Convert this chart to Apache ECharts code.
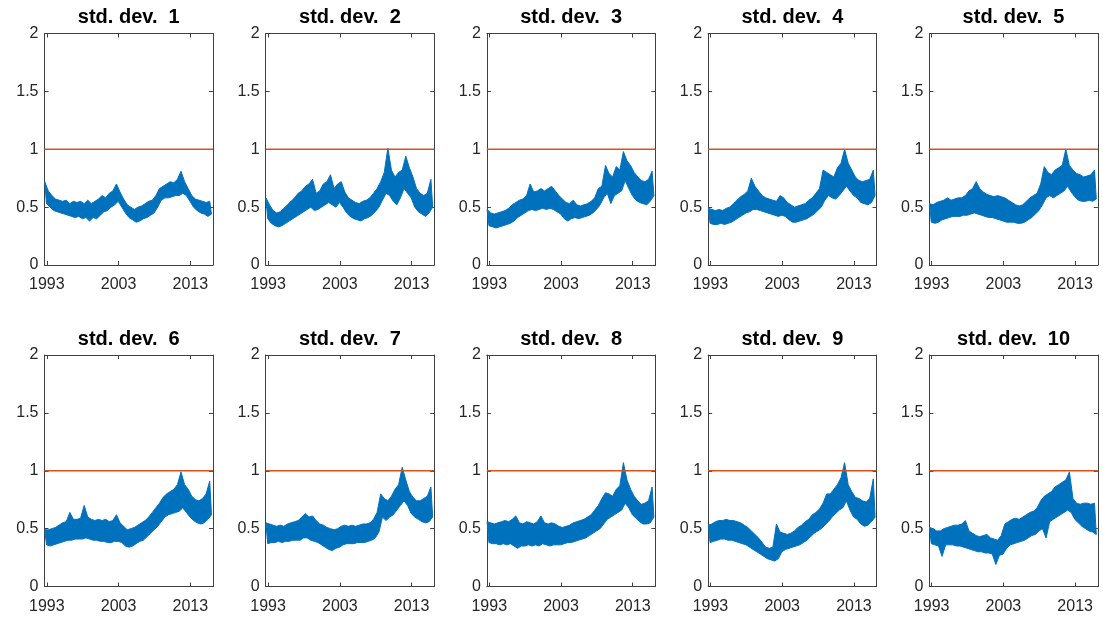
<!DOCTYPE html>
<html>
<head>
<meta charset="utf-8">
<title>std. dev.</title>
<script src="https://cdn.jsdelivr.net/npm/echarts@6/dist/echarts.min.js"></script>
<style>
  html, body { margin: 0; padding: 0; background: #ffffff; }
  #chart { width: 1103px; height: 619px; }
</style>
</head>
<body>
<div id="chart"></div>
<script>
// Panel titles
const panelTitles = ['std. dev.  1', 'std. dev.  2', 'std. dev.  3', 'std. dev.  4', 'std. dev.  5',
                     'std. dev.  6', 'std. dev.  7', 'std. dev.  8', 'std. dev.  9', 'std. dev.  10'];

// Axis ticks
const xTickYears = [1993, 2003, 2013];
const yTickValues = [0, 0.5, 1, 1.5, 2];
const xRange = [1992.67, 2016.16];
const yRange = [0, 2];

// Reference level (orange line)
const refLevel = 1;

// Sampling grid: upper readings at firstYear + k*step, lower readings half a step later
const firstYear = 1992.7;
const step = 0.5;

// Upper / lower envelope of the rolling std. dev., one pair per half year
const sd1Hi = [0.72,0.64,0.60,0.57,0.56,0.55,0.56,0.53,0.55,0.54,0.55,0.53,0.56,0.53,0.55,0.57,0.60,0.58,0.62,0.64,0.70,0.63,0.57,0.52,0.50,0.48,0.50,0.51,0.53,0.55,0.56,0.60,0.66,0.68,0.70,0.72,0.71,0.74,0.81,0.72,0.66,0.60,0.57,0.56,0.55,0.54,0.55];
const sd1Lo = [0.53,0.50,0.47,0.46,0.45,0.44,0.43,0.42,0.41,0.42,0.40,0.41,0.38,0.41,0.40,0.43,0.46,0.47,0.50,0.52,0.55,0.50,0.45,0.41,0.39,0.37,0.38,0.40,0.41,0.43,0.45,0.50,0.56,0.58,0.58,0.59,0.60,0.60,0.62,0.60,0.55,0.50,0.47,0.45,0.44,0.42,0.44];

const sd2Hi = [0.58,0.52,0.47,0.45,0.46,0.49,0.52,0.55,0.58,0.62,0.64,0.68,0.70,0.74,0.62,0.64,0.70,0.72,0.78,0.66,0.70,0.72,0.63,0.58,0.56,0.54,0.53,0.55,0.56,0.58,0.62,0.66,0.72,0.80,1.01,0.82,0.76,0.80,0.82,0.94,0.84,0.76,0.66,0.62,0.60,0.62,0.74];
const sd2Lo = [0.40,0.36,0.34,0.33,0.34,0.36,0.38,0.40,0.42,0.44,0.46,0.48,0.50,0.47,0.48,0.50,0.52,0.54,0.52,0.50,0.54,0.50,0.45,0.42,0.40,0.39,0.38,0.40,0.41,0.43,0.46,0.50,0.56,0.62,0.60,0.55,0.52,0.58,0.66,0.62,0.58,0.50,0.46,0.44,0.42,0.45,0.50];

const sd3Hi = [0.48,0.45,0.44,0.45,0.46,0.47,0.49,0.52,0.54,0.56,0.57,0.60,0.70,0.63,0.64,0.66,0.64,0.66,0.68,0.64,0.60,0.57,0.54,0.53,0.56,0.52,0.51,0.52,0.53,0.55,0.58,0.66,0.68,0.86,0.79,0.76,0.85,0.82,0.98,0.90,0.86,0.80,0.76,0.73,0.72,0.74,0.81];
const sd3Lo = [0.34,0.33,0.32,0.33,0.34,0.35,0.36,0.38,0.41,0.43,0.45,0.47,0.48,0.47,0.48,0.49,0.48,0.49,0.48,0.46,0.44,0.40,0.38,0.40,0.41,0.40,0.41,0.42,0.43,0.45,0.48,0.52,0.58,0.62,0.53,0.60,0.62,0.64,0.73,0.66,0.60,0.56,0.54,0.53,0.52,0.55,0.60];

const sd4Hi = [0.49,0.48,0.47,0.48,0.47,0.49,0.50,0.53,0.56,0.59,0.61,0.64,0.75,0.68,0.64,0.60,0.58,0.57,0.56,0.55,0.60,0.58,0.54,0.52,0.50,0.51,0.52,0.53,0.56,0.58,0.62,0.66,0.82,0.80,0.78,0.76,0.84,0.88,1.00,0.88,0.82,0.76,0.73,0.72,0.73,0.74,0.82];
const sd4Lo = [0.36,0.35,0.35,0.36,0.35,0.36,0.37,0.39,0.41,0.43,0.45,0.46,0.48,0.48,0.47,0.46,0.45,0.44,0.43,0.42,0.43,0.42,0.39,0.37,0.37,0.38,0.39,0.40,0.42,0.44,0.47,0.50,0.56,0.60,0.58,0.57,0.60,0.64,0.68,0.64,0.60,0.58,0.54,0.53,0.52,0.54,0.60];

const sd5Hi = [0.53,0.52,0.54,0.55,0.56,0.58,0.56,0.57,0.58,0.58,0.60,0.64,0.66,0.72,0.66,0.63,0.61,0.60,0.59,0.60,0.59,0.58,0.56,0.54,0.52,0.51,0.52,0.55,0.58,0.60,0.62,0.70,0.85,0.80,0.78,0.82,0.84,0.86,1.00,0.86,0.82,0.79,0.78,0.76,0.77,0.78,0.82];
const sd5Lo = [0.37,0.36,0.37,0.39,0.40,0.41,0.42,0.42,0.42,0.43,0.43,0.44,0.45,0.44,0.43,0.42,0.41,0.41,0.40,0.39,0.38,0.37,0.37,0.37,0.36,0.36,0.37,0.39,0.41,0.44,0.47,0.52,0.58,0.60,0.58,0.60,0.62,0.64,0.68,0.63,0.59,0.56,0.55,0.55,0.56,0.55,0.57];

const sd6Hi = [0.49,0.49,0.50,0.51,0.53,0.55,0.56,0.64,0.58,0.58,0.59,0.70,0.60,0.58,0.57,0.58,0.57,0.58,0.56,0.57,0.62,0.55,0.52,0.49,0.50,0.51,0.53,0.55,0.57,0.60,0.64,0.68,0.72,0.77,0.80,0.82,0.84,0.88,0.99,0.88,0.84,0.78,0.75,0.74,0.76,0.80,0.91];
const sd6Lo = [0.36,0.35,0.36,0.37,0.38,0.39,0.40,0.40,0.41,0.41,0.41,0.42,0.41,0.40,0.40,0.39,0.39,0.38,0.38,0.39,0.39,0.38,0.35,0.34,0.35,0.37,0.39,0.40,0.43,0.46,0.49,0.52,0.56,0.60,0.62,0.63,0.64,0.65,0.68,0.64,0.60,0.57,0.55,0.54,0.55,0.58,0.62];

const sd7Hi = [0.55,0.54,0.53,0.52,0.53,0.52,0.54,0.55,0.56,0.57,0.60,0.63,0.60,0.61,0.57,0.54,0.53,0.51,0.50,0.49,0.50,0.52,0.53,0.52,0.53,0.52,0.53,0.54,0.54,0.55,0.58,0.64,0.80,0.76,0.74,0.78,0.84,0.88,1.03,0.92,0.82,0.77,0.74,0.74,0.76,0.78,0.86];
const sd7Lo = [0.37,0.38,0.38,0.39,0.38,0.39,0.39,0.40,0.40,0.40,0.42,0.42,0.40,0.39,0.38,0.36,0.34,0.32,0.31,0.33,0.34,0.36,0.37,0.37,0.37,0.38,0.38,0.38,0.39,0.40,0.42,0.47,0.60,0.57,0.60,0.62,0.66,0.70,0.74,0.70,0.63,0.60,0.58,0.56,0.55,0.56,0.60];

const sd8Hi = [0.56,0.55,0.54,0.55,0.56,0.57,0.56,0.58,0.61,0.55,0.54,0.56,0.55,0.54,0.56,0.61,0.55,0.54,0.55,0.54,0.52,0.51,0.52,0.53,0.55,0.56,0.57,0.58,0.60,0.62,0.66,0.70,0.76,0.81,0.80,0.78,0.84,0.87,1.07,0.92,0.84,0.78,0.74,0.71,0.72,0.74,0.86];
const sd8Lo = [0.38,0.37,0.37,0.36,0.37,0.36,0.37,0.35,0.33,0.35,0.35,0.36,0.35,0.36,0.35,0.37,0.36,0.35,0.36,0.36,0.36,0.37,0.38,0.38,0.39,0.40,0.41,0.42,0.44,0.46,0.48,0.50,0.54,0.58,0.60,0.62,0.64,0.66,0.72,0.68,0.62,0.59,0.56,0.54,0.54,0.55,0.60];

const sd9Hi = [0.53,0.54,0.56,0.57,0.57,0.58,0.57,0.57,0.56,0.55,0.53,0.51,0.48,0.45,0.42,0.38,0.34,0.33,0.34,0.54,0.47,0.46,0.45,0.46,0.48,0.51,0.53,0.56,0.58,0.62,0.64,0.67,0.72,0.80,0.80,0.84,0.88,0.94,1.07,0.88,0.82,0.77,0.76,0.74,0.73,0.76,0.93];
const sd9Lo = [0.38,0.39,0.40,0.41,0.41,0.40,0.40,0.39,0.38,0.37,0.36,0.34,0.32,0.30,0.28,0.26,0.24,0.23,0.22,0.24,0.30,0.32,0.33,0.34,0.35,0.36,0.38,0.40,0.43,0.46,0.48,0.50,0.53,0.56,0.60,0.63,0.66,0.68,0.74,0.66,0.60,0.58,0.54,0.52,0.53,0.56,0.60];

const sd10Hi = [0.51,0.50,0.48,0.48,0.50,0.51,0.52,0.53,0.53,0.54,0.57,0.48,0.46,0.44,0.43,0.44,0.45,0.42,0.41,0.40,0.44,0.54,0.56,0.58,0.59,0.58,0.60,0.62,0.64,0.65,0.68,0.74,0.78,0.80,0.82,0.86,0.88,0.90,0.92,0.99,0.76,0.72,0.71,0.72,0.72,0.71,0.72];
const sd10Lo = [0.37,0.36,0.35,0.26,0.36,0.36,0.36,0.35,0.35,0.34,0.33,0.32,0.31,0.30,0.30,0.29,0.29,0.28,0.19,0.27,0.28,0.33,0.36,0.37,0.38,0.39,0.40,0.42,0.44,0.45,0.48,0.50,0.42,0.56,0.58,0.60,0.62,0.64,0.66,0.64,0.58,0.55,0.52,0.50,0.48,0.47,0.45];

const panelHi = [sd1Hi, sd2Hi, sd3Hi, sd4Hi, sd5Hi, sd6Hi, sd7Hi, sd8Hi, sd9Hi, sd10Hi];
const panelLo = [sd1Lo, sd2Lo, sd3Lo, sd4Lo, sd5Lo, sd6Lo, sd7Lo, sd8Lo, sd9Lo, sd10Lo];

// ---- layout (pixels) ----
const COLS = 5;
const plotLefts = [44.5, 265.7, 486.9, 708.1, 929.3];
const plotTops = [33.5, 355];
const plotW = 168.5;
const plotH = 231.5;

const BLUE = '#0072BD';
const ORANGE = '#D95319';
const AXIS = '#404040';
const TEXT = '#262626';
const FONT = '"Liberation Sans", Arial, Helvetica, sans-serif';

// Outline of the band: upper readings left to right, lower readings right to left
function bandOutline(hi, lo) {
  const upper = hi.map((v, i) => [firstYear + i * step, v]);
  const lower = lo.map((v, i) => [firstYear + i * step + step / 2, v]);
  return upper.concat(lower.reverse());
}

const grids = [], xAxes = [], yAxes = [], series = [], graphics = [];

panelTitles.forEach((title, k) => {
  const col = k % COLS, row = Math.floor(k / COLS);
  const left = plotLefts[col], top = plotTops[row];
  grids.push({ left: left, top: top, width: plotW, height: plotH, containLabel: false });

  const tickStyle = { show: true, inside: true, length: 4, lineStyle: { color: AXIS, width: 1 } };
  const lineStyle = { show: true, onZero: false, lineStyle: { color: AXIS, width: 1 } };

  // bottom x axis with labels
  xAxes.push({
    type: 'value', gridIndex: k, position: 'bottom', min: xRange[0], max: xRange[1],
    axisLine: lineStyle,
    axisTick: Object.assign({ customValues: xTickYears }, tickStyle),
    axisLabel: { customValues: xTickYears, margin: 12, fontSize: 16, color: TEXT, fontFamily: FONT,
                 formatter: v => String(Math.round(v)) },
    splitLine: { show: false }
  });
  // top x axis (box edge with ticks)
  xAxes.push({
    type: 'value', gridIndex: k, position: 'top', min: xRange[0], max: xRange[1],
    axisLine: lineStyle,
    axisTick: Object.assign({ customValues: xTickYears }, tickStyle),
    axisLabel: { show: false },
    splitLine: { show: false }
  });
  // left y axis with labels
  yAxes.push({
    type: 'value', gridIndex: k, position: 'left', min: yRange[0], max: yRange[1], interval: 0.5,
    axisLine: lineStyle,
    axisTick: Object.assign({ customValues: yTickValues }, tickStyle),
    axisLabel: { customValues: yTickValues, margin: 6, fontSize: 16, color: TEXT, fontFamily: FONT,
                 formatter: v => String(v) },
    splitLine: { show: false }
  });
  // right y axis (box edge with ticks)
  yAxes.push({
    type: 'value', gridIndex: k, position: 'right', min: yRange[0], max: yRange[1], interval: 0.5,
    axisLine: lineStyle,
    axisTick: Object.assign({ customValues: yTickValues }, tickStyle),
    axisLabel: { show: false },
    splitLine: { show: false }
  });

  // noisy std. dev. series drawn as a filled band between its envelopes
  const outline = bandOutline(panelHi[k], panelLo[k]);
  series.push({
    type: 'custom', coordinateSystem: 'cartesian2d', xAxisIndex: 2 * k, yAxisIndex: 2 * k,
    data: outline, clip: true, z: 2, silent: true,
    renderItem: (params, api) => {
      if (params.dataIndex !== 0) return null;
      const pts = outline.map(p => api.coord(p));
      return {
        type: 'polygon',
        shape: { points: pts },
        style: { fill: BLUE, stroke: BLUE, lineWidth: 1, lineJoin: 'miter' }
      };
    }
  });
  series.push({
    type: 'line', xAxisIndex: 2 * k, yAxisIndex: 2 * k,
    data: [[xRange[0], refLevel], [xRange[1], refLevel]],
    showSymbol: false, symbol: 'none', clip: true, z: 3,
    lineStyle: { color: ORANGE, width: 1.3 }
  });

  graphics.push({
    type: 'text', x: left + plotW / 2, y: top - 16,
    style: { text: title, align: 'center', verticalAlign: 'middle',
             font: 'bold 20px ' + FONT, fill: '#000000' }
  });
});

const chart = echarts.init(document.getElementById('chart'), null, { renderer: 'canvas' });
chart.setOption({
  animation: false,
  backgroundColor: '#ffffff',
  grid: grids,
  xAxis: xAxes,
  yAxis: yAxes,
  series: series,
  graphic: graphics
});
</script>
</body>
</html>
